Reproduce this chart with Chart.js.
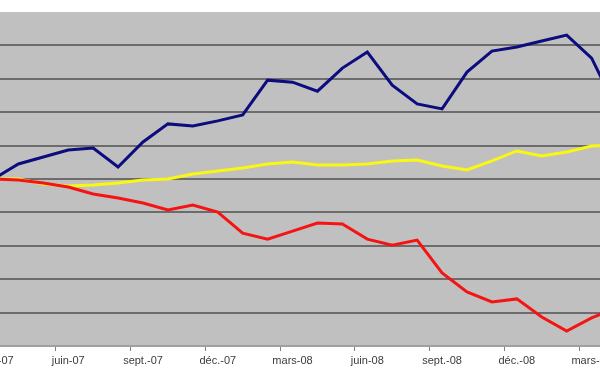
<!DOCTYPE html>
<html lang="fr">

<head>
    <meta charset="UTF-8">
    <title>Indices</title>
    <style>
        * {
            margin: 0;
            padding: 0;
        }

        body {
            background: #fff;
            width: 600px;
            height: 372px;
            overflow: hidden;
        }

        #wrap {
            position: relative;
            width: 600px;
            height: 372px;
            overflow: hidden;
        }

        #myChart {
            position: absolute;
            left: -59px;
            top: 0;
        }
    </style>
</head>

<body>
    <div id="wrap">
        <canvas id="myChart" width="728" height="372"></canvas>
    </div>
    <script src="https://cdn.jsdelivr.net/npm/chart.js@4.4.1/dist/chart.umd.min.js"></script>
    <script>
        const months = ['mars-07', 'avr.-07', 'mai-07', 'juin-07', 'juil.-07', 'août-07', 'sept.-07', 'oct.-07',
            'nov.-07', 'déc.-07', 'janv.-08', 'févr.-08', 'mars-08', 'avr.-08', 'mai-08', 'juin-08', 'juil.-08',
            'août-08', 'sept.-08', 'oct.-08', 'nov.-08', 'déc.-08', 'janv.-09', 'févr.-09', 'mars-09', 'avr.-09'];

        const blueSeries = [100, 104.5, 106.6, 108.7, 109.3, 103.6, 111.1, 116.5, 115.9, 117.4, 119.2, 129.6, 129.0,
            126.3, 133.2, 138.0, 128.1, 122.5, 121.0, 132.0, 138.3, 139.5, 141.3, 143.1, 136.2, 121];
        const yellowSeries = [100, 100, 98.5, 97.9, 98.2, 98.8, 99.7, 100, 101.5, 102.4, 103.3, 104.5, 105.1,
            104.2, 104.2, 104.5, 105.4, 105.7, 103.9, 102.7, 105.4, 108.4, 106.9, 108.1, 109.9, 110.2];
        const redSeries = [100, 99.7, 98.8, 97.6, 95.5, 94.3, 92.8, 90.7, 92.2, 90.1, 83.8, 82.0, 84.4,
            86.8, 86.5, 82.0, 80.2, 81.7, 71.9, 66.2, 63.2, 64.1, 58.7, 54.5, 58.4, 61.4];

        const yMin = 50, yMax = 150, yStep = 10;

        // gray plot background
        const plotBg = {
            id: 'plotBg',
            beforeDraw(chart) {
                const { ctx, chartArea: a } = chart;
                ctx.save();
                ctx.fillStyle = '#c0c0c0';
                ctx.fillRect(a.left, a.top, a.right - a.left, a.bottom - a.top);
                ctx.restore();
            }
        };

        new Chart('myChart', {
            type: 'line',
            data: {
                labels: months,
                datasets: [{
                    data: blueSeries,
                    borderColor: '#0c0c7e',
                    borderWidth: 3,
                    pointRadius: 0,
                    tension: 0
                }, {
                    data: redSeries,
                    borderColor: '#f41414',
                    borderWidth: 3,
                    pointRadius: 0,
                    tension: 0
                }, {
                    data: yellowSeries,
                    borderColor: '#f8f812',
                    borderWidth: 3,
                    pointRadius: 0,
                    tension: 0
                }]
            },
            options: {
                responsive: false,
                animation: false,
                devicePixelRatio: 1,
                layout: { padding: { left: 40, right: 40, top: 12, bottom: 0 } },
                plugins: {
                    legend: { display: false },
                    tooltip: { enabled: false }
                },
                scales: {
                    x: {
                        offset: true,
                        afterFit(scale) { scale.height = 26; },
                        border: { color: '#a0a0a0', width: 1 },
                        grid: {
                            offset: true,
                            drawOnChartArea: false,
                            tickLength: 5,
                            color: ctx => (ctx.index % 3 === 0 ? '#808080' : 'transparent')
                        },
                        ticks: {
                            autoSkip: false,
                            maxRotation: 0,
                            padding: 3,
                            color: '#3a3a3a',
                            font: { family: 'Liberation Sans, Arial, sans-serif', size: 11 },
                            callback: (v, i) => (i % 3 === 0 ? months[i] : '')
                        }
                    },
                    y: {
                        min: yMin,
                        max: yMax,
                        afterFit(scale) { scale.width = 0; },
                        border: { display: false },
                        grid: {
                            drawTicks: false,
                            lineWidth: 2,
                            color: ctx => (ctx.tick.value === yMax ? 'transparent' : (ctx.tick.value === yMin ? '#a0a0a0' : '#6c6c6c'))
                        },
                        ticks: { display: false, stepSize: yStep }
                    }
                }
            },
            plugins: [plotBg]
        });
    </script>
</body>

</html>
